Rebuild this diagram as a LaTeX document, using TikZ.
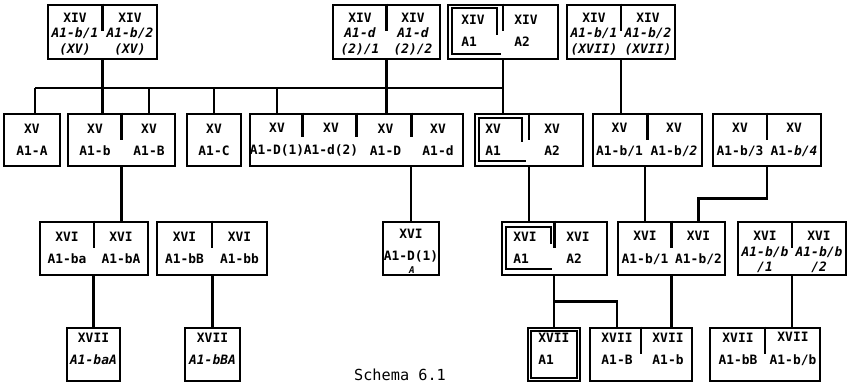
\documentclass[tikz,border=0pt]{standalone}
\usepackage{fontspec}
\newfontfamily\typefont{DejaVu Sans Mono Bold}
\newfontfamily\handfont{DejaVu Sans Mono Bold Oblique}
\newfontfamily\capfont{DejaVu Sans Mono}

\begin{document}
\begin{tikzpicture}[
			x=0.3mm, y=-0.3mm,
			font=\typefont\fontsize{11}{19}\selectfont,
			line width=0.75mm,
			box/.style 2 args={rectangle,draw,line width=0.85mm,inner sep=0pt,
				minimum width=#1*0.3mm,minimum height=#2*0.3mm},
			cell/.style={align=center,inner sep=0pt},
			tall/.style={cell,font=\typefont\fontsize{11}{13}\selectfont},
			lcell/.style={align=left,inner sep=0pt,anchor=west},
			dbl/.style={line width=0.6mm},
			]
			\useasboundingbox (0,0) rectangle (848,384);
			\clip (0,0) rectangle (848,384);
			
			% Row XIV
			\node[box={109}{54}] (t1) at (102.5,32) {};
			\node[tall] (t1l) at (75,34) {XIV\\\handfont A1-b/1\\\handfont (XV)};
			\node[tall] (t1r) at (130,34) {XIV\\\handfont A1-b/2\\\handfont (XV)};
			
			\node[box={107}{54}] (t2) at (386.5,32) {};
			\node[tall] (t2l) at (360,34) {XIV\\\handfont A1-d\\\handfont (2)/1};
			\node[tall] (t2r) at (413,34) {XIV\\\handfont A1-d\\\handfont (2)/2};
			
			\node[box={110}{54}] (t3) at (503,32) {};
			\node[lcell] (t3l) at (460,31) {XIV\\A1};
			\node[lcell] (t3r) at (513,31) {XIV\\A2};
			
			\node[box={108}{54}] (t4) at (621,32) {};
			\node[tall] (t4l) at (594,34) {XIV\\\handfont A1-b/1\\\handfont (XVII)};
			\node[tall] (t4r) at (648,34) {XIV\\\handfont A1-b/2\\\handfont (XVII)};
			
			% Row XV
			\node[box={56}{52}] (a) at (32,140) {};
			\node[cell] (aa) at (32,140) {XV\\A1-A};
			
			\node[box={107}{52}] (bB) at (121.5,140) {};
			\node[cell] (bBl) at (95,140) {XV\\A1-b};
			\node[cell] (bBr) at (149,140) {XV\\A1-B};
			
			\node[box={54}{52}] (c) at (214,140) {};
			\node[cell] (cc) at (214,140) {XV\\A1-C};
			
			\node[box={213}{52}] (dd) at (356.5,140) {};
			\node[cell] (ddA) at (277,140) {XV\\A1-D(1)};
			\node[cell] (ddB) at (331,140) {XV\\A1-d(2)};
			\node[cell] (ddC) at (385.5,140) {XV\\A1-D};
			\node[cell] (ddD) at (438,140) {XV\\A1-d};
			
			\node[box={108}{52}] (aa2) at (529,140) {};
			\node[lcell] (aa2l) at (484,140) {XV\\A1};
			\node[lcell] (aa2r) at (543,140) {XV\\A2};
			
			\node[box={109}{52}] (b12) at (647.5,140) {};
			\node[cell] (b12l) at (619.5,140) {XV\\A1-b/1};
			\node[cell] (b12r) at (674,140) {XV\\A1-b/{\handfont 2}};
			
			\node[box={108}{52}] (b34) at (767,140) {};
			\node[cell] (b34l) at (740,140) {XV\\A1-b/3};
			\node[cell] (b34r) at (794,140) {XV\\A1-{\handfont b/4}};
			
			% Row XVI
			\node[box={108}{53}] (baA) at (94,248.5) {};
			\node[cell] (baAl) at (67,248) {XVI\\A1-ba};
			\node[cell] (baAr) at (121,248) {XVI\\A1-bA};
			
			\node[box={110}{53}] (bBb) at (212,248.5) {};
			\node[cell] (bBbl) at (184.5,248) {XVI\\A1-bB};
			\node[cell] (bBbr) at (239.5,248) {XVI\\A1-bb};
			
			\node[box={56}{53}] (d1) at (411,248.5) {};
			\node[cell] (d1c) at (411,246) {XVI\\A1-D(1)};
			\node[inner sep=0pt,font=\handfont\fontsize{8}{8}\selectfont] (d1x) at (412,270) {A};
			
			\node[box={105}{53}] (aa3) at (554.5,248.5) {};
			\node[lcell] (aa3l) at (512,248) {XVI\\A1};
			\node[lcell] (aa3r) at (565,248) {XVI\\A2};
			
			\node[box={107}{53}] (b12c) at (671.5,248.5) {};
			\node[cell] (b12cl) at (645,248) {XVI\\A1-b/1};
			\node[cell] (b12cr) at (698.5,248) {XVI\\A1-b/2};
			
			\node[box={108}{53}] (bb12) at (792,248.5) {};
			\node[tall] (bb12l) at (765,252) {XVI\\\handfont A1-b/b\\\handfont /1};
			\node[tall] (bb12r) at (819,252) {XVI\\\handfont A1-b/b\\\handfont /2};
			
			% Row XVII
			\node[box={53}{53}] (baA4) at (93.5,354.5) {};
			\node[cell] (baA4c) at (93.5,349) {XVII\\\handfont A1-baA};
			
			\node[box={55}{53}] (bBA4) at (212.5,354.5) {};
			\node[cell] (bBA4c) at (212.5,349) {XVII\\\handfont A1-bBA};
			
			\node[box={52}{53}] (a4) at (554,354.5) {};
			\node[lcell] (a4c) at (537,349) {XVII\\A1};
			
			\node[box={102}{53}] (Bb4) at (641,354.5) {};
			\node[cell] (Bb4l) at (617,349) {XVII\\A1-B};
			\node[cell] (Bb4r) at (668,349) {XVII\\A1-b};
			
			\node[box={110}{53}] (bBbb4) at (765,354.5) {};
			\node[cell] (bBbb4l) at (738,349) {XVII\\A1-bB};
			\node[cell] (bBbb4r) at (793,349) {XVII\\A1-b/b};
			
			% Cell dividers, drawn from the top edge only
			\foreach \b in {t1,t2,t3,t4,bB,aa2,b12,b34,baA,bBb,aa3,b12c,bb12,Bb4,bBbb4}
			\draw (\b.north) -- ++(0,27);
			\foreach \dx in {54,108,163}
			\draw ([xshift=\dx*0.3mm]dd.north west) -- ++(0,24);
			
			% Double frames
			\draw[dbl] ([shift={(50,31)}]t3.north west) |- ([shift={(5,4)}]t3.north west)
			|- ([shift={(54,50)}]t3.north west);
			\draw[dbl] ([shift={(48,29)}]aa2.north west) |- ([shift={(5,5)}]aa2.north west)
			|- ([shift={(52,48)}]aa2.north west);
			\draw[dbl] ([shift={(50,23)}]aa3.north west) |- ([shift={(5,6)}]aa3.north west)
			|- ([shift={(51,48)}]aa3.north west);
			\draw[dbl] ([shift={(4,4)}]a4.north west) rectangle ([shift={(-4,-4)}]a4.south east);
			
			% Connections
			\coordinate (busL) at (35,88);
			\draw (busL) -- (busL -| t3.south);
			\draw (busL) -- (busL |- a.north);
			\draw (t1.south) -- (t1.south |- bB.north);
			\draw (bBr |- busL) -- (bBr |- bB.north);
			\draw (c.north |- busL) -- (c.north);
			\draw (ddA |- busL) -- (ddA |- dd.north);
			\draw (t2.south) -- (t2.south |- dd.north);
			\draw (t3.south) -- (t3.south |- aa2.north);
			\draw (t4.south) -- (t4.south |- b12.north);
			
			\draw (bB.south) -- (bB.south |- baA.north);
			\draw (d1.north |- dd.south) -- (d1.north);
			\draw (aa2.south) -- (aa2.south |- aa3.north);
			\draw (b12cl |- b12.south) -- (b12cl |- b12c.north);
			\draw (b34.south) -- ++(0,31) -| (b12cr |- b12c.north);
			
			\draw (baA4.north |- baA.south) -- (baA4.north);
			\draw (bBA4.north |- bBb.south) -- (bBA4.north);
			\draw (a4.north |- aa3.south) -- (a4.north);
			\draw (a4.north) ++(0,-25) -| (Bb4l |- Bb4.north);
			\draw (b12c.south) -- (b12c.south |- Bb4.north);
			\draw (bb12.south) -- (bb12.south |- bBbb4.north);
			
			% Caption at the lower edge
			\node[anchor=south,inner sep=0pt,font=\capfont\fontsize{13}{13}\selectfont] (cap) at (400,382) {Schema 6.1};
		\end{tikzpicture}
\end{document}
